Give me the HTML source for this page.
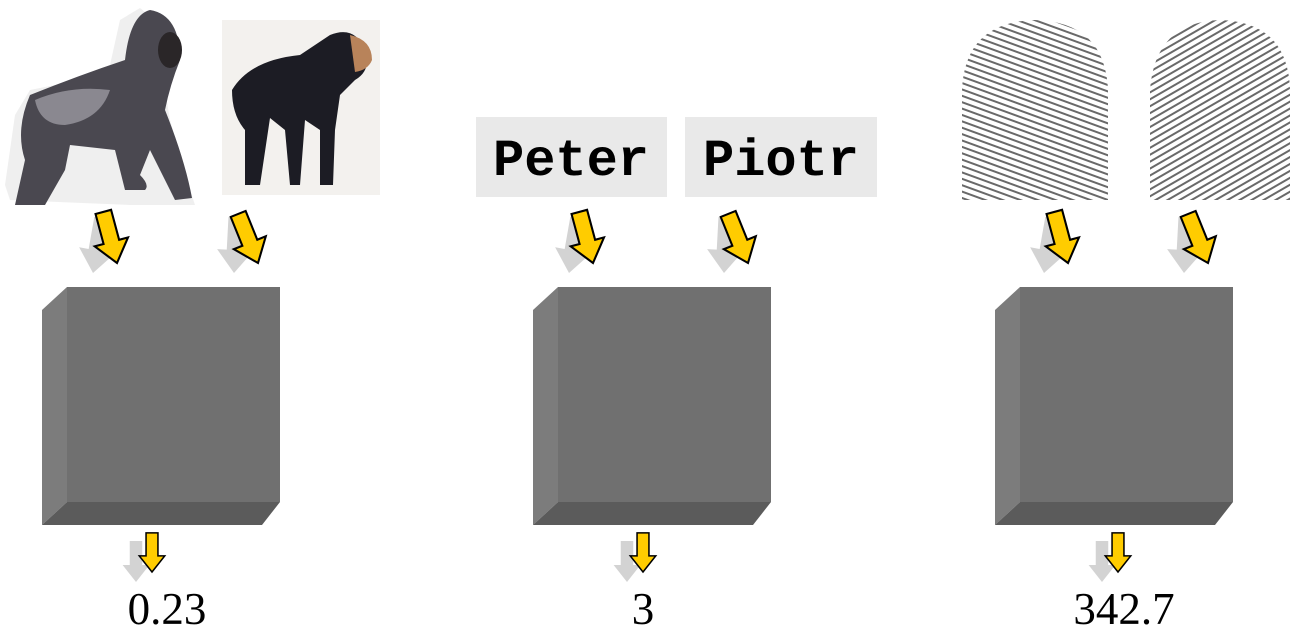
<!DOCTYPE html>
<html><head><meta charset="utf-8"><style>
html,body{margin:0;padding:0;background:#fff;width:1316px;height:634px;overflow:hidden}
svg{display:block}
</style></head><body>
<svg width="1316" height="634" viewBox="0 0 1316 634">
<defs>
<path id="arr" d="M-7,-46 L7,-46 L7,-19 L15,-19 L0,0 L-15,-19 L-7,-19 Z"/>
<pattern id="fp" width="6" height="6" patternUnits="userSpaceOnUse" patternTransform="rotate(20)">
<rect width="6" height="6" fill="#fff"/><rect width="6" height="2" fill="#444"/></pattern>
<pattern id="fp2" width="6" height="6" patternUnits="userSpaceOnUse" patternTransform="rotate(-30)">
<rect width="6" height="6" fill="#fff"/><rect width="6" height="2" fill="#444"/></pattern>
</defs>

<!-- gorilla -->
<g>
<path d="M10,200 L130,205 L195,205 L190,190 L170,120 L160,60 L155,20 L140,8 L120,20 L110,65 L80,80 L30,90 L15,115 L10,150 L5,185 Z" fill="#d8d8d8" opacity="0.4"/>
<path d="M30,95 Q80,75 125,60 Q130,15 150,10 Q180,15 180,60 Q170,85 165,110 Q185,160 192,198 L175,200 Q160,170 150,150 L140,175 Q150,185 145,190 L125,190 L115,150 L70,145 L65,170 L45,205 L15,205 L25,160 Q15,130 30,95 Z" fill="#4a4850"/>
<path d="M35,100 Q70,85 110,90 Q100,120 65,125 Q40,125 35,100 Z" fill="#8a8890"/>
<ellipse cx="170" cy="50" rx="12" ry="18" fill="#2a2628"/>
</g>
<!-- chimp -->
<g>
<rect x="222" y="20" width="158" height="175" fill="#f3f1ee"/>
<path d="M232,90 Q250,60 300,55 L330,35 Q355,25 365,50 Q372,70 355,80 L340,95 L335,130 L333,185 L320,185 L320,130 L305,120 L300,185 L290,185 L285,130 L270,118 L260,185 L245,185 L245,130 Q232,115 232,90 Z" fill="#1c1c24"/>
<path d="M350,35 Q372,40 372,60 Q368,70 355,72 Z" fill="#b8835a"/>
</g>

<!-- name boxes -->
<g>
<rect x="476" y="117" width="191" height="80" fill="#e9e9e9"/>
<text x="571" y="175" text-anchor="middle" font-family="Liberation Mono, monospace" font-weight="bold" font-size="52" fill="#000">Peter</text>
</g>
<g>
<rect x="685" y="117" width="192" height="80" fill="#e9e9e9"/>
<text x="781" y="175" text-anchor="middle" font-family="Liberation Mono, monospace" font-weight="bold" font-size="52" fill="#000">Piotr</text>
</g>

<!-- fingerprints -->
<g>
<path d="M962,200 L962,90 Q965,22 1035,20 Q1105,22 1108,90 L1108,200 Z" fill="url(#fp)" opacity="0.8"/>
</g>
<g>
<path d="M1150,200 L1150,90 Q1155,22 1220,20 Q1288,22 1290,90 L1290,200 Z" fill="url(#fp2)" opacity="0.8"/>
</g>

<g id="boxes"></g>
<g id="arrows"></g>

<g font-family="Liberation Serif, serif" font-size="45" fill="#000" text-anchor="middle">
<text x="167" y="624">0.23</text>
<text x="643" y="624">3</text>
<text x="1124" y="624">342.7</text>
</g>
</svg>
<script>
const NS='http://www.w3.org/2000/svg';
const boxX=[42,533,995];
const boxNames=['similarity-box-apes','similarity-box-names','similarity-box-fingerprints'];
const bg=document.getElementById('boxes');
boxX.forEach((x,i)=>{
  const g=document.createElementNS(NS,'g');
  
  
  g.innerHTML=
   `<polygon points="${x},310 ${x+25},287 ${x+25},502 ${x},525" fill="#7c7c7c"/>`+
   `<rect x="${x+25}" y="287" width="213" height="215" fill="#707070"/>`+
   `<polygon points="${x},525 ${x+25},502 ${x+238},502 ${x+220},525" fill="#5b5b5b"/>`;
  bg.appendChild(g);
});
const arrowTips=[[117,263,-15],[258,263,-22],[593,263,-15],[748,263,-22],[1068,263,-15],[1208,263,-22],[152,572,0],[643,572,0],[1118,572,0]];
const ag=document.getElementById('arrows');
arrowTips.forEach((a,i)=>{
  const g=document.createElementNS(NS,'g');
  
  
  const s=a[2]===0?0.85:1.15;
  const dx=a[2]===0?-16:-24, dy=a[2]===0?10:10;
  g.innerHTML=`<use href="#arr" transform="translate(${a[0]+dx},${a[1]+dy}) rotate(${a[2]+(a[2]?25:0)}) scale(${s*1.05})" fill="#d3d3d3"/>`+
   `<use href="#arr" transform="translate(${a[0]},${a[1]}) rotate(${a[2]}) scale(${s})" fill="#ffcc00" stroke="#000" stroke-width="1.8" stroke-linejoin="miter"/>`;
  ag.appendChild(g);
});
</script>
</body></html>
